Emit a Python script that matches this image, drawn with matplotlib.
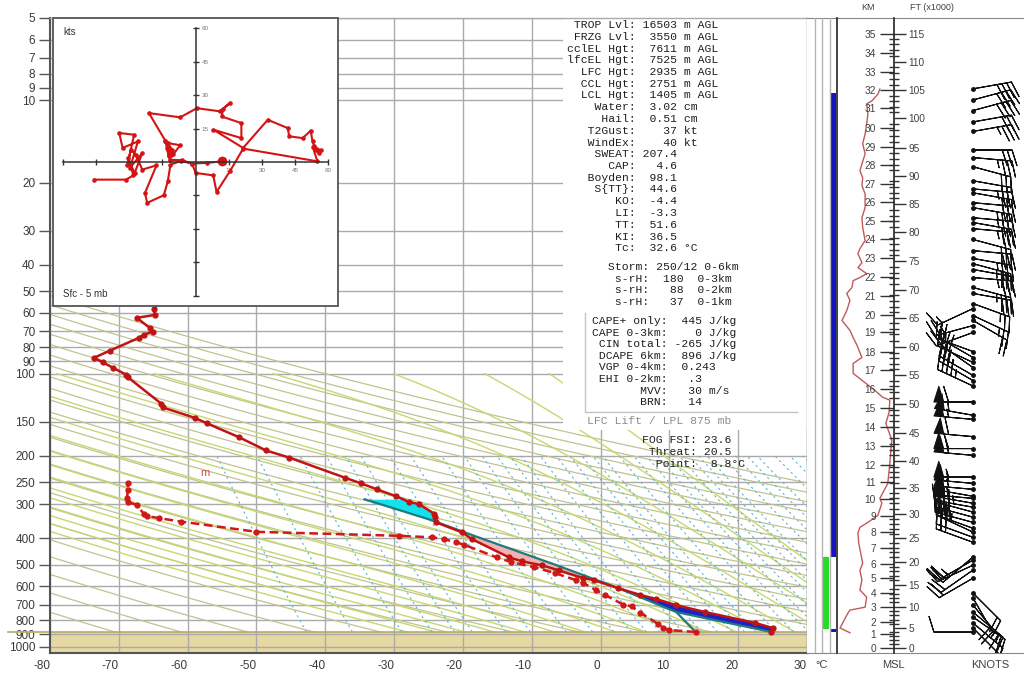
import numpy as np
import matplotlib
matplotlib.use("Agg")
import matplotlib.pyplot as plt
from matplotlib.patches import Rectangle
from matplotlib.ticker import NullFormatter

plt.rcParams["font.family"] = ["Liberation Sans", "DejaVu Sans"]
plt.rcParams["axes.unicode_minus"] = False

W, H = 1024, 675
P_TOP, P_BOT = 5, 1052
P_SFC = 881

# environmental temperature (mb, degC)
temp_p = [881, 852, 817, 745, 703, 668, 645, 610, 569, 560, 524, 503, 486, 470, 403, 381,
          350, 335, 325, 300, 295, 281, 265, 252, 240, 203, 191, 171, 152, 145, 133, 129,
          103, 101, 95, 91, 87.5, 82.4, 74, 72, 70.3, 68, 62.5, 61, 58, 52]
temp_t = [24.8, 25.0, 22.5, 15.2, 11.0, 8.1, 5.8, 2.6, -1.0, -2.5, -6.1, -8.5, -11.4, -13.3, -18.7, -20.1,
          -23.9, -24.0, -24.2, -26.4, -27.8, -29.7, -32.5, -34.8, -37.2, -45.2, -48.6, -52.5, -57.2, -59.0, -63.6, -63.8,
          -68.7, -68.9, -70.9, -72.3, -73.6, -71.3, -67.1, -66.4, -65.1, -65.5, -67.4, -64.8, -64.9, -63.5]

# dewpoint
dew_p = [881, 867, 852, 824, 751, 710, 700, 646, 619, 583, 569, 537, 511, 489, 470, 422, 414, 403,
         397, 392, 379, 348, 338, 332, 325, 302, 295, 284, 267, 252]
dew_t = [13.8, 9.9, 9.1, 8.4, 5.8, 4.5, 3.3, 0.7, -0.7, -2.5, -3.6, -6.6, -9.6, -13.0, -15.1, -19.9, -21.0, -22.8,
         -24.5, -29.3, -50.0, -60.9, -64.1, -65.9, -66.4, -67.4, -68.7, -68.8, -68.7, -68.7]

# lifted parcel and surface-to-LCL mixing ratio path
parcel_p = [881, 745, 604, 500, 400, 344, 288]
parcel_t = [24.8, 11.0, 2.2, -6.6, -17.4, -24.5, -34.3]
lcl_p = [881, 745]
lcl_t = [13.8, 11.0]

# hodograph (u, v in kt), surface first
hodo_uv = [(12.1, 0.3), (5.0, -0.4), (-1.6, -0.7), (-6.0, 0.8), (-11.6, 1.0), (-12.8, 6.3), (-11.0, 3.0),
           (-13.6, 9.5), (-12.1, 2.5), (-10.5, 5.5), (-12.6, 8.5), (-6.9, 7.5), (-10.0, 3.5), (-13.6, 9.5),
           (-21.0, 21.9), (-6.9, 20.0), (0.6, 24.1), (11.0, 22.7), (15.5, 26.4), (12.5, 23.8), (11.8, 20.4),
           (20.7, 17.4), (20.7, 10.7), (8.0, 14.5), (21.5, 6.3), (32.6, 18.9), (41.6, 15.2), (42.3, 11.5),
           (48.3, 10.7), (52.0, 14.0), (52.8, 9.2), (54.2, 5.5), (56.5, 5.2), (53.5, 7.0), (55.8, 4.0),
           (53.0, 6.5), (55.0, 0.3), (21.5, 6.0), (15.5, -4.2), (9.5, -13.4), (8.0, -6.0), (0.1, -4.9),
           (-1.6, -0.7), (-6.5, 0.5), (-11.3, -1.2), (-12.5, -8.6), (-14.3, -14.9), (-21.8, -18.3),
           (-22.8, -13.9), (-17.6, -1.5), (-24.0, -3.4), (-27.0, 3.3), (-29.2, 5.5), (-30.7, -1.2),
           (-27.7, 12.2), (-34.4, 13.0), (-32.9, 6.3), (-26.0, 9.2), (-29.5, -2.5), (-24.0, 4.0),
           (-27.5, -5.0), (-30.5, 2.0), (-28.0, -6.0), (-31.4, -7.9), (-45.6, -7.9)]

# wind barbs: pressure (mb), direction (deg), speed (kt)
barb_p = [882, 852, 817, 777, 745, 703, 662, 635, 560, 523, 502, 481, 469, 414, 397, 380, 368, 350,
          335, 321, 308, 298, 286, 281, 265, 252, 239, 199, 188, 170, 147, 142, 127, 111, 106, 101.5,
          95, 91, 87.3, 83, 70.7, 66.7, 63.9, 61.3, 57.8, 55.4, 50.9, 48.4, 44.5, 41.6, 39.6, 37.9,
          35.5, 32.3, 29.5, 28.0, 26.9, 24.7, 23.7, 21.8, 21.1, 19.7, 17.5, 16.2, 15.2, 13.0, 12.0,
          10.9, 9.97, 9.08]
barb_dir = [270, 135, 130, 125, 130, 140, 150, 135, 240, 235, 245, 240, 230, 290, 290, 295, 290, 285,
            285, 285, 280, 280, 275, 280, 275, 275, 270, 275, 270, 275, 275, 280, 270, 295, 300, 300,
            305, 295, 300, 290, 250, 255, 120, 115, 245, 110, 100, 105, 95, 100, 105, 100,
            95, 105, 95, 100, 95, 100, 95, 100, 95, 100, 105, 95, 90, 80, 80,
            75, 75, 80]
barb_spd = [10, 15, 20, 20, 15, 15, 20, 20, 20, 20, 20, 25, 25, 30, 30, 35, 35, 35,
            40, 40, 45, 50, 50, 50, 55, 55, 55, 60, 60, 60, 55, 55, 60, 45, 35, 25,
            30, 25, 20, 25, 20, 25, 20, 25, 15, 25, 30, 35, 35, 30, 35, 35,
            30, 30, 35, 30, 35, 35, 30, 30, 35, 30, 30, 35, 30, 35, 30,
            40, 40, 40]

# wind speed profile (mb, kt)
spd_p = [887, 852, 751, 733, 715, 657, 619, 569, 524, 494, 417, 383, 365, 350, 330, 298, 286, 252,
         213, 175, 152, 139, 125, 122, 115, 99.8, 91.8, 87.3, 78.9, 73.8, 69.5, 63.9, 58.8, 54.0,
         50.9, 48.4, 45.7, 44.5, 43.1, 40.9, 39.3, 36.4, 34.9, 32.6, 29.2, 26.9, 24.7, 22.0, 20.5,
         19.2, 18.1, 17.1, 15.7, 14.4, 13.3, 12.2, 11.2, 10.3, 10.05, 9.5, 9.1]
spd_kt = [15, 2.5, 12.5, 15, 34, 36, 27.5, 30, 27.5, 31, 26, 25, 27.5, 37.5, 50, 55, 52.5, 62.5,
          65, 67.5, 60, 64, 65, 56, 46, 19, 19, 30, 24, 19, 15, 5, 11, 15,
          11, 17.5, 19, 27.5, 36, 25, 30, 25, 27.5, 34, 31, 30, 34, 34, 30,
          31, 27.5, 30, 34, 31, 34, 36, 37.5, 36, 42.5, 50, 52.5]

# cloud / layer bars: column, top (mb), bottom (mb), colour
bar_col = [3.5, 2.5, 3.5]
bar_top = [9.4, 470, 861]
bar_bot = [470, 861, 881]
bar_clr = ["#1515c0", "#22dd22", "#1515c0"]

# height scale: km MSL and the pressure at that height
km_levels = list(range(0, 36))
km_press = [1011, 899, 808, 716, 637, 561, 495, 434, 381, 332, 288, 250, 215, 184, 157, 134, 114,
            97.3, 83.5, 70.7, 60.8, 51.9, 44.4, 37.9, 32.3, 27.7, 23.6, 20.2, 17.3, 14.8, 12.6,
            10.7, 9.19, 7.86, 6.69, 5.71]

p_labels = [5, 6, 7, 8, 9, 10, 20, 30, 40, 50, 60, 70, 80, 90, 100, 150, 200, 250, 300,
            400, 500, 600, 700, 800, 900, 1000]
t_labels = list(range(-80, 31, 10))

stats_lines = [" TROP Lvl: 16503 m AGL", " FRZG Lvl:  3550 m AGL", "cclEL Hgt:  7611 m AGL",
               "lfcEL Hgt:  7525 m AGL", "  LFC Hgt:  2935 m AGL", "  CCL Hgt:  2751 m AGL",
               "  LCL Hgt:  1405 m AGL", "    Water:  3.02 cm", "     Hail:  0.51 cm",
               "   T2Gust:    37 kt", "   WindEx:    40 kt", "    SWEAT: 207.4",
               "      CAP:   4.6", "   Boyden:  98.1", "    S{TT}:  44.6", "       KO:  -4.4",
               "       LI:  -3.3", "       TT:  51.6", "       KI:  36.5", "       Tc:  32.6 °C"]
storm_lines = ["Storm: 250/12 0-6km", " s-rH:  180  0-3km", " s-rH:   88  0-2km", " s-rH:   37  0-1km"]
cape_lines = ["CAPE+ only:  445 J/kg", "CAPE 0-3km:    0 J/kg", " CIN total: -265 J/kg",
              " DCAPE 6km:  896 J/kg", " VGP 0-4km:  0.243", " EHI 0-2km:   .3",
              "       MVV:   30 m/s", "       BRN:   14"]
fog_lines = ["FOG FSI: 23.6", " Threat: 20.5", "  Point:  8.8°C"]


def fx(x):
    return x / W


def fy(y):
    return 1 - y / H


def at_p(pg, p_list, t_list):
    return np.interp(-np.log(pg), -np.log(p_list), t_list)


def sat_vp(t):
    return 6.112 * np.exp(17.67 * t / (t + 243.5))


def moist_adiabat(tw, p):
    # pseudo-adiabat started at 1000 mb, stepped upward in log-p
    t = tw + 273.15
    out = []
    prev = 1000.0
    for pp in p:
        n = 8
        dlp = (np.log(pp) - np.log(prev)) / n
        for lp in np.linspace(np.log(prev), np.log(pp), n + 1)[1:]:
            es = sat_vp(t - 273.15)
            pc = np.exp(lp)
            rs = 0.622 * es / (pc - es)
            num = 287.0 * t + 2.5e6 * rs
            den = 1004.0 + 2.5e6 ** 2 * rs * 0.622 / (287.0 * t * t)
            t += num / den * dlp
        prev = pp
        out.append(t - 273.15)
    return np.array(out)


def log_axes(rect):
    a = fig.add_axes(rect)
    a.patch.set_alpha(0)
    a.set_yscale("log")
    a.set_ylim(P_BOT, P_TOP)
    a.yaxis.set_minor_formatter(NullFormatter())
    return a


fig = plt.figure(figsize=(W / 100, H / 100), dpi=100)
bot, top = 653, 18
col_h = (bot - top) / H
ax = fig.add_axes([fx(50), fy(bot), (807 - 50) / W, col_h])
ax.set_yscale("log")
ax.set_ylim(P_BOT, P_TOP)
ax.set_xlim(-80, 30)
ax.minorticks_off()
ax.set_yticks(p_labels)
ax.set_yticklabels([str(p) for p in p_labels])
ax.set_xticks(t_labels)
ax.set_xticklabels([str(t) for t in t_labels], ha="right")
ax.grid(True, color="#aaaaaa", lw=1.0)
ax.set_axisbelow(True)
ax.tick_params(axis="y", length=8, width=1, color="#555555", pad=2.5, labelsize=8.5, labelcolor="#3a3a3a")
ax.tick_params(axis="x", length=0, pad=5, labelsize=8.5, labelcolor="#3a3a3a")
for side, c, w in [("left", "#555555", 1.5), ("bottom", "#555555", 1.5), ("top", "#aaaaaa", 1.0),
                   ("right", "#888888", 1.0)]:
    ax.spines[side].set_color(c)
    ax.spines[side].set_linewidth(w)
    ax.spines[side].set_zorder(10)

# ground below the surface pressure
ax.axhspan(P_SFC, P_BOT, color="#e6d8a2", zorder=0.3, lw=0)
ax.plot([-86.1, 30], [P_SFC, P_SFC], color="#b9aa66", lw=1.2, clip_on=False, zorder=3)

# dry adiabats
pd = np.logspace(np.log10(P_SFC), np.log10(P_TOP), 200)
for theta in range(200, 451, 10):
    ax.plot(theta * (pd / 1000.0) ** 0.2857 - 273.15, pd, color="#c2c290", lw=0.9, zorder=1)

# saturated adiabats
pm = np.logspace(np.log10(P_SFC), 2, 120)
for tw in range(-20, 49, 4):
    ax.plot(moist_adiabat(tw, pm), pm, color="#c6d870", lw=1.0, zorder=1)

# mixing ratio lines
pw = np.logspace(np.log10(P_SFC), np.log10(200), 60)
for w in [0.1, 0.2, 0.4, 0.6, 0.8, 1, 1.5, 2, 3, 4, 5, 6, 7, 8, 10, 12, 14, 16, 18, 20, 24, 28,
          32, 36, 40, 45, 50, 55, 60, 70, 80, 90, 100, 120, 140, 160]:
    e = (w / 1000.0) * pw / (0.622 + w / 1000.0)
    le = np.log(e / 6.112)
    ax.plot(243.5 * le / (17.67 - le), pw, color="#5ab6d6", lw=0.8, ls=(0, (2, 3)), zorder=1)

# parcel areas
pg = np.logspace(np.log10(P_SFC), np.log10(parcel_p[-1]), 400)
tp = at_p(pg, parcel_p, parcel_t)
te = at_p(pg, temp_p, temp_t)
ax.fill_betweenx(pg, tp, te, where=(tp < te) & (pg > 500), color="#2020c8", lw=0, zorder=2,
                 interpolate=True)
ax.fill_betweenx(pg, tp, te, where=(tp >= te), color="#f4b0b2", lw=0, zorder=2, interpolate=True)
ax.fill_betweenx(pg, tp, te, where=(tp < te) & (pg <= 500), color="#12e2ee", lw=0, zorder=2,
                 interpolate=True)
ax.plot(parcel_t, parcel_p, color="#1c7c7c", lw=1.6, zorder=3)
ax.plot(lcl_t, lcl_p, color="#1c7c7c", lw=1.6, zorder=3)

# sounding
ax.plot(temp_t, temp_p, color="#c01414", lw=1.8, marker="o", ms=3.5, zorder=4)
ax.plot(dew_t, dew_p, color="#d01818", lw=1.8, dashes=(3.5, 1.8), marker="o", ms=3.5, zorder=4)
ax.text(-57.5, 230, "m", color="#d04848", fontsize=8, ha="center", va="center", zorder=4)

# white panel for the stability numbers
ax.add_patch(Rectangle(((563 - 50) / 757, (bot - 430) / (bot - top)), 1, 1, transform=ax.transAxes,
                       facecolor="white", edgecolor="none", zorder=5))
mono = dict(family="Liberation Mono", fontsize=8.2, color="#1e1e1e", va="center", ha="left")
for i, s in enumerate(stats_lines):
    fig.text(fx(567), fy(25 + i * 11.75), s, **mono)
for i, s in enumerate(storm_lines):
    fig.text(fx(608), fy(267 + i * 11.7), s, **mono)
for i, s in enumerate(cape_lines):
    fig.text(fx(592), fy(321 + i * 11.6), s, **mono)
fig.add_artist(plt.Line2D([fx(585), fx(585), fx(797)], [fy(313), fy(412), fy(412)],
                          color="#c4c4c4", lw=1.0))
fig.text(fx(587), fy(421), "LFC Lift / LPL 875 mb", family="Liberation Mono", fontsize=8.2,
         color="#8c8c8c", va="center", ha="left")
for i, s in enumerate(fog_lines):
    fig.text(fx(642), fy(440 + i * 12), s, **mono)

# hodograph inset
hax = fig.add_axes([fx(53), fy(306), 285 / W, 288 / H])
hax.set_facecolor("white")
hax.set_xlim(-64.3, 64.3)
hax.set_ylim(-64.5, 64.5)
for side in ["top", "left"]:
    hax.spines[side].set_visible(False)
hax.spines["bottom"].set_position(("data", 0))
hax.spines["right"].set_position(("data", 0))
for side in ["bottom", "right"]:
    hax.spines[side].set_bounds(-60, 60)
    hax.spines[side].set_color("#333333")
    hax.spines[side].set_linewidth(1.1)
hax.yaxis.set_ticks_position("right")
ticks = [-60, -45, -30, -15, 15, 30, 45, 60]
tick_txt = [str(t) if t > 0 else "" for t in ticks]
hax.set_xticks(ticks)
hax.set_xticklabels(tick_txt)
hax.set_yticks(ticks)
hax.set_yticklabels(tick_txt)
hax.tick_params(direction="inout", length=5, width=1, color="#333333", labelsize=4.5,
                labelcolor="#777777", pad=2)
hax.add_patch(Rectangle((0, 0), 1, 1, transform=hax.transAxes, fill=False, edgecolor="#555555",
                        lw=1.3, clip_on=False))
hu = [a for a, b in hodo_uv]
hv = [b for a, b in hodo_uv]
hax.plot(hu, hv, color="#d41414", lw=1.5, marker="o", ms=2.3)
hax.plot(hu[0], hv[0], "o", color="#d41414", ms=6)
hax.text(0.035, 0.95, "kts", transform=hax.transAxes, fontsize=7, color="#333333", va="center")
hax.text(0.035, 0.04, "Sfc - 5 mb", transform=hax.transAxes, fontsize=7, color="#333333",
         va="center")

# right-hand frame
rax = fig.add_axes([fx(807), fy(bot), (1024 - 807) / W, col_h])
rax.set_xlim(0, 1)
rax.set_ylim(0, 1)
rax.set_xticks([])
rax.set_yticks([])
for side in ["left", "right"]:
    rax.spines[side].set_visible(False)
for side in ["top", "bottom"]:
    rax.spines[side].set_color("#888888")

# layer bars
bax = log_axes([fx(807), fy(bot), 30 / W, col_h])
bax.set_xlim(0, 4)
bax.set_xticks([])
bax.set_yticks([])
bax.minorticks_off()
for side in ["left", "top", "bottom"]:
    bax.spines[side].set_visible(False)
bax.spines["right"].set_color("#333333")
bax.spines["right"].set_linewidth(1.3)
for xl in [1, 2, 3]:
    bax.axvline(xl, color="#b4b4b4", lw=1.0)
bax.bar(bar_col, np.array(bar_bot) - np.array(bar_top), bottom=bar_top,
        width=[0.6, 0.8, 0.6], color=bar_clr)

# wind speed trace
sax = log_axes([fx(838), fy(bot), 55 / W, col_h])
sax.set_xlim(0, 69)
sax.axis("off")
sax.plot(spd_kt, spd_p, color="#bf5a5a", lw=1.0)

# height axis in km (left) and thousands of feet (right)
km_ticks = 10 ** np.interp(km_levels, km_levels, np.log10(km_press))
kft = np.arange(0, 116)
kft_p = 10 ** np.interp(kft * 0.3048, km_levels, np.log10(km_press))
kax = log_axes([fx(894), fy(bot), 0.0001, col_h])
fax = log_axes([fx(894), fy(bot), 0.0001, col_h])
for a in (kax, fax):
    a.set_xticks([])
    for side in ["top", "bottom"]:
        a.spines[side].set_visible(False)
kax.spines["right"].set_visible(False)
kax.spines["left"].set_color("#222222")
kax.spines["left"].set_linewidth(1.2)
kax.set_yticks(km_ticks, [str(k) for k in km_levels], minor=False)
kax.set_yticks([], minor=True)
kax.tick_params(axis="y", length=10, width=1, color="#333333", labelsize=7.3, labelcolor="#404040",
                pad=3)
fax.spines["left"].set_visible(False)
fax.spines["right"].set_visible(False)
fax.yaxis.tick_right()
fax.set_yticks(kft_p[::5], [str(k) for k in kft[::5]], minor=False)
fax.set_yticks(kft_p, minor=True)
fax.yaxis.set_minor_formatter(NullFormatter())
fax.tick_params(axis="y", which="major", length=8.5, width=1, color="#333333", labelsize=7.3,
                labelcolor="#404040", pad=2)
fax.tick_params(axis="y", which="minor", direction="inout", length=7, width=1, color="#333333")

# wind barbs
wax = log_axes([fx(900), fy(bot), 124 / W, col_h])
wax.set_xlim(0, 124)
wax.axis("off")
rad = np.deg2rad(barb_dir)
bu = -np.array(barb_spd) * np.sin(rad)
bv = -np.array(barb_spd) * np.cos(rad)
bx = np.full(len(barb_p), 73.0)
wax.barbs(bx, barb_p, bu, bv, length=7.5, lw=0.8, color="#111111")
wax.plot(bx, barb_p, "o", color="#111111", ms=2.5)

lab = dict(fontsize=8, color="#404040", ha="center", va="center")
fig.text(fx(822), fy(665), "°C", **lab)
fig.text(fx(893), fy(665), "MSL", **lab)
fig.text(fx(990), fy(665), "KNOTS", **lab)
fig.text(fx(868), fy(7), "KM", fontsize=6.5, color="#404040", ha="center", va="center")
fig.text(fx(932), fy(7), "FT (x1000)", fontsize=6.5, color="#404040", ha="center", va="center")

fig.savefig("out.png", dpi=100)
